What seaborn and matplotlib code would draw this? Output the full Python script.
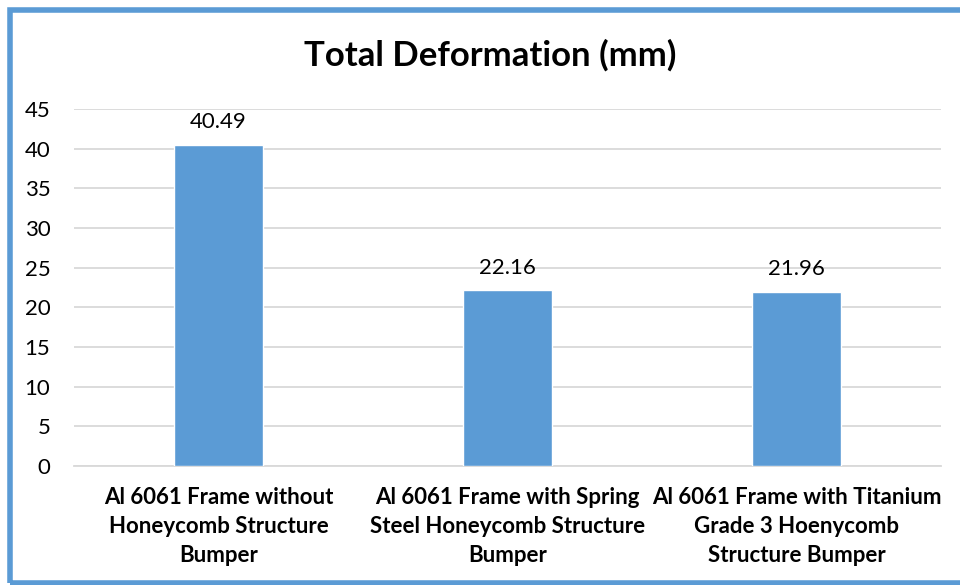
import matplotlib
matplotlib.use("Agg")
import matplotlib.pyplot as plt
import seaborn as sns
import pandas as pd
from matplotlib.patches import Rectangle

# données
categories = [
    "Al 6061 Frame without\nHoneycomb Structure\nBumper",
    "Al 6061 Frame with Spring\nSteel Honeycomb Structure\nBumper",
    "Al 6061 Frame with Titanium\nGrade 3 Hoenycomb\nStructure Bumper",
]
deformation = [40.49, 22.16, 21.96]
yticks = [0, 5, 10, 15, 20, 25, 30, 35, 40, 45]

df = pd.DataFrame({"config": categories, "deformation": deformation})

sns.set_style("white")
plt.rcParams["font.family"] = ["Lato", "DejaVu Sans"]
plt.rcParams["text.color"] = "black"

fig = plt.figure(figsize=(9.6, 5.85), dpi=100)
ax = fig.add_axes([74 / 960, 1 - 466 / 585, (941 - 74) / 960, (466 - 109) / 585])

sns.barplot(data=df, x="config", y="deformation", color="#5B9BD5",
            width=0.31, saturation=1, ax=ax, zorder=3)

ax.set_ylim(0, 45)
ax.set_yticks(yticks)
ax.set_xlim(-0.5, 2.5)
ax.yaxis.grid(True, color="#D9D9D9", linewidth=1.3, zorder=0)
ax.set_axisbelow(True)
for s in ["top", "right", "left"]:
    ax.spines[s].set_visible(False)
ax.spines["bottom"].set_color("#D9D9D9")
ax.spines["bottom"].set_linewidth(1.3)
ax.tick_params(axis="both", length=0, labelsize=16, colors="black")
ax.tick_params(axis="y", pad=17)
ax.tick_params(axis="x", pad=15)
for lab in ax.get_xticklabels():
    lab.set_fontweight("bold")
    lab.set_linespacing(1.48)
ax.set_xlabel("")
ax.set_ylabel("")

for i, v in enumerate(deformation):
    ax.annotate(f"{v:.2f}", (i, v), xytext=(0, 9), textcoords="offset points",
                ha="center", va="bottom", fontsize=16, color="black")

fig.text(490 / 960, 1 - 55 / 585, "Total Deformation (mm)", ha="center", va="center",
         fontsize=25, fontweight="bold", color="black")

# cadre bleu
fig.patches.append(Rectangle((10 / 960, 2 / 585), 1.2, 1 - 12 / 585, transform=fig.transFigure,
                             fill=False, edgecolor="#5B9BD5", linewidth=4, zorder=10))

fig.savefig("out.png", dpi=100, facecolor="white")
plt.close(fig)
